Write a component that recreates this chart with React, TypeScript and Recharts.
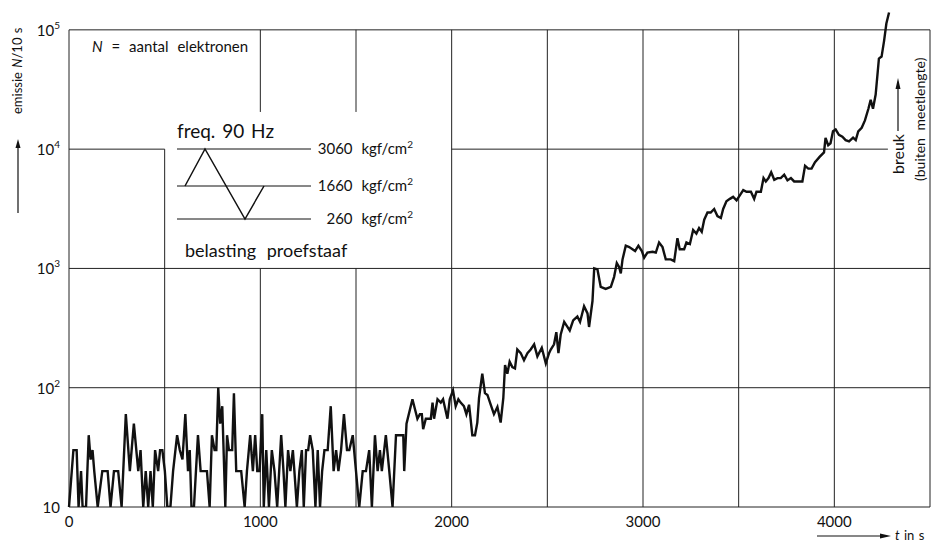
import React from "react";
import { LineChart, Line, XAxis, YAxis, ReferenceLine } from "recharts";

// time in s, emission N per 10 s
const times = [
  0, 23, 40, 50, 63, 71, 89, 103, 113, 123, 132, 150, 174, 202, 217, 235, 257, 275, 297, 318,
  339, 362, 374, 388, 401, 414, 426, 438, 450, 466, 476, 488, 501, 514, 530, 544, 565, 579, 593, 608,
  622, 631, 640, 653, 674, 688, 700, 721, 735, 747, 761, 770, 780, 790, 801, 817, 826, 836, 853, 862,
  874, 900, 918, 930, 947, 961, 973, 984, 996, 1010, 1018, 1031, 1045, 1060, 1074, 1088, 1109, 1121, 1131, 1145,
  1157, 1170, 1178, 1191, 1204, 1217, 1227, 1239, 1250, 1260, 1274, 1288, 1300, 1312, 1323, 1335, 1352, 1368, 1383, 1396,
  1408, 1422, 1437, 1453, 1465, 1483, 1500, 1517, 1535, 1552, 1569, 1583, 1599, 1613, 1625, 1635, 1656, 1674, 1691, 1709,
  1726, 1747, 1752, 1764, 1795, 1821, 1834, 1844, 1851, 1865, 1891, 1900, 1908, 1926, 1943, 1955, 1978, 1990, 2007, 2021,
  2035, 2047, 2064, 2077, 2091, 2108, 2122, 2134, 2143, 2160, 2174, 2187, 2204, 2221, 2239, 2256, 2270, 2279, 2291, 2303,
  2317, 2331, 2343, 2361, 2378, 2396, 2413, 2431, 2448, 2471, 2492, 2509, 2518, 2535, 2547, 2558, 2570, 2588, 2605, 2617,
  2635, 2657, 2671, 2692, 2710, 2718, 2736, 2745, 2762, 2779, 2805, 2832, 2849, 2863, 2875, 2884, 2893, 2910, 2928, 2945,
  2959, 2976, 2994, 3006, 3023, 3050, 3067, 3084, 3102, 3119, 3145, 3163, 3180, 3192, 3215, 3227, 3245, 3262, 3279, 3293,
  3307, 3320, 3337, 3354, 3372, 3389, 3407, 3419, 3436, 3454, 3471, 3489, 3506, 3524, 3541, 3564, 3581, 3593, 3616, 3630,
  3642, 3656, 3670, 3686, 3703, 3720, 3738, 3755, 3773, 3790, 3816, 3833, 3847, 3864, 3881, 3899, 3923, 3946, 3954, 3968,
  3980, 3993, 4007, 4024, 4042, 4059, 4077, 4098, 4112, 4125, 4143, 4160, 4178, 4190, 4202, 4216, 4233, 4247, 4260, 4272,
  4286,
];

const counts = [
  10, 30, 30, 10, 20, 10, 10, 40, 25, 30, 20, 10, 20, 20, 10, 20, 20, 10, 60, 20,
  50, 20, 30, 10, 20, 10, 20, 10, 30, 20, 30, 30, 20, 10, 10, 20, 40, 30, 25, 60,
  20, 30, 10, 10, 40, 20, 20, 20, 10, 40, 30, 30, 100, 50, 70, 10, 40, 30, 30, 90,
  20, 20, 10, 20, 40, 20, 40, 20, 20, 60, 10, 30, 10, 30, 20, 10, 40, 20, 10, 30,
  20, 30, 20, 10, 20, 30, 10, 30, 30, 40, 30, 10, 30, 10, 20, 30, 30, 70, 20, 30,
  20, 30, 60, 30, 30, 40, 20, 10, 20, 20, 30, 10, 40, 20, 30, 20, 40, 20, 10, 40,
  40, 40, 20, 50, 80, 55, 60, 60, 45, 55, 55, 75, 55, 80, 75, 80, 55, 80, 95, 70,
  80, 75, 70, 60, 72, 40, 40, 51, 82, 131, 90, 87, 72, 60, 69, 51, 82, 155, 131, 165,
  149, 145, 209, 195, 170, 195, 209, 231, 183, 216, 160, 195, 209, 231, 292, 195, 280, 356, 323, 302,
  367, 395, 356, 482, 420, 323, 533, 1000, 980, 700, 674, 700, 850, 1110, 1030, 910, 1190, 1550, 1510, 1450,
  1400, 1550, 1400, 1230, 1360, 1380, 1360, 1650, 1510, 1190, 1190, 1150, 1790, 1450, 1450, 1650, 1600, 2100, 1960, 2180,
  2030, 2560, 2940, 2940, 3150, 2750, 2650, 3150, 3660, 3830, 3980, 3720, 4100, 4530, 4390, 4390, 3830, 4390, 4390, 5720,
  5360, 5720, 6400, 5540, 5720, 5720, 6100, 5470, 5720, 5360, 5360, 5360, 7240, 6860, 6860, 7760, 8610, 9400, 12400, 10800,
  11200, 14100, 14600, 13200, 12700, 11900, 11600, 12500, 11900, 14100, 15100, 17400, 21800, 25900, 21800, 28700, 57400, 59700, 80900, 113000,
  140000,
];

const xTicks = [0, 1000, 2000, 3000, 4000];
const yTicks = [10, 100, 1000, 10000, 100000];

// grid lines in data units, with the gaps the original leaves around its inset
const hGrid = [
  { y: 100000, from: 0, to: 4500 },
  { y: 10000, from: 0, to: 500 },
  { y: 10000, from: 2000, to: 4280 },
  { y: 1000, from: 0, to: 4500 },
  { y: 100, from: 0, to: 4500 },
  { y: 10, from: 0, to: 4500 },
];
const vGrid = [
  { x: 0, from: 10, to: 100000 },
  { x: 500, from: 10, to: 10000 },
  { x: 1000, from: 10, to: 1000 },
  { x: 1000, from: 20500, to: 100000 },
  { x: 1500, from: 10, to: 1000 },
  { x: 1500, from: 20500, to: 100000 },
  { x: 2000, from: 10, to: 100000 },
  { x: 2500, from: 10, to: 100000 },
  { x: 3000, from: 10, to: 100000 },
  { x: 3500, from: 10, to: 100000 },
  { x: 4000, from: 10, to: 100000 },
  { x: 4500, from: 10, to: 100000 },
];

const data = times.map((t, i) => ({ t, n: counts[i] }));

const FONT = "Lato, 'Open Sans', sans-serif";
const INK = "#111";

function YTick({ x, y, payload }: any) {
  const exp = Math.round(Math.log10(payload.value));
  return (
    <text x={x - 1} y={y + 6} textAnchor="end" fontSize={15} fill={INK} fontFamily={FONT}>
      10
      {exp > 1 && (
        <tspan dy={-7} fontSize={10}>
          {exp}
        </tspan>
      )}
    </text>
  );
}

function XTick({ x, y, payload }: any) {
  return (
    <text x={x} y={y + 12} textAnchor="middle" fontSize={15} fill={INK} fontFamily={FONT}>
      {payload.value}
    </text>
  );
}

function Overlay() {
  const t = { fontFamily: FONT, fill: INK };
  return (
    <svg
      width={933}
      height={545}
      style={{ position: "absolute", left: 0, top: 0, pointerEvents: "none" }}
    >
      {/* y axis title */}
      <g transform="translate(22,0)">
        <text transform="translate(0,114) rotate(-90)" fontSize={13} wordSpacing={1} {...t}>
          emissie <tspan fontStyle="italic">N</tspan>/10 s
        </text>
        <line x1={-4} y1={213} x2={-4} y2={146} stroke={INK} strokeWidth={1.2} />
        <polygon points="-4,139 -6.5,148 -1.5,148" fill={INK} />
      </g>

      {/* x axis title */}
      <line x1={817} y1={536} x2={882} y2={536} stroke={INK} strokeWidth={1.2} />
      <polygon points="891,536 880,533.5 880,538.5" fill={INK} />
      <text x={895} y={540} fontSize={13} wordSpacing={1} {...t}>
        <tspan fontStyle="italic">t</tspan> in s
      </text>

      {/* break annotation */}
      <text transform="translate(904,174) rotate(-90)" fontSize={16} {...t}>
        breuk
      </text>
      <line x1={898} y1={131} x2={898} y2={86} stroke={INK} strokeWidth={1.2} />
      <polygon points="898,78 895.5,89 900.5,89" fill={INK} />
      <text transform="translate(925,181) rotate(-90)" fontSize={14} wordSpacing={4} {...t}>
        (buiten meetlengte)
      </text>

      {/* legend note */}
      <text x={92} y={52} fontSize={15} wordSpacing={5} {...t}>
        <tspan fontStyle="italic">N</tspan> = aantal elektronen
      </text>

      {/* load schematic */}
      <text x={177} y={138} fontSize={19} wordSpacing={2} {...t}>
        freq. 90 Hz
      </text>
      <line x1={177} y1={149} x2={311} y2={149} stroke={INK} strokeWidth={1} />
      <line x1={177} y1={186} x2={311} y2={186} stroke={INK} strokeWidth={1} />
      <line x1={177} y1={219} x2={311} y2={219} stroke={INK} strokeWidth={1} />
      <polyline
        points="185,186 205,149 245,219 264,186"
        fill="none"
        stroke={INK}
        strokeWidth={1.5}
      />
      <text x={413} y={154} textAnchor="end" fontSize={15} wordSpacing={5} {...t}>
        3060 kgf/cm<tspan dy={-6} fontSize={10}>2</tspan>
      </text>
      <text x={413} y={191} textAnchor="end" fontSize={15} wordSpacing={5} {...t}>
        1660 kgf/cm<tspan dy={-6} fontSize={10}>2</tspan>
      </text>
      <text x={413} y={224} textAnchor="end" fontSize={15} wordSpacing={5} {...t}>
        260 kgf/cm<tspan dy={-6} fontSize={10}>2</tspan>
      </text>
      <text x={185} y={257} fontSize={18} wordSpacing={6} {...t}>
        belasting proefstaaf
      </text>
    </svg>
  );
}

export default function App() {
  return (
    <div
      style={{
        position: "absolute",
        left: 0,
        top: 0,
        width: 933,
        height: 545,
        background: "#fff",
        fontFamily: FONT,
      }}
    >
      <LineChart
        width={933}
        height={545}
        data={data}
        margin={{ top: 6, right: 3, bottom: 8, left: 0 }}
      >
        <XAxis
          dataKey="t"
          type="number"
          domain={[0, 4500]}
          ticks={xTicks}
          axisLine={false}
          tickLine={false}
          height={30}
          tick={<XTick />}
        />
        <YAxis
          type="number"
          scale="log"
          domain={[10, 158489]}
          ticks={yTicks}
          allowDataOverflow
          axisLine={false}
          tickLine={false}
          width={69}
          tick={<YTick />}
        />
        {hGrid.map((g, i) => (
          <ReferenceLine
            key={`h${i}`}
            segment={[
              { x: g.from, y: g.y },
              { x: g.to, y: g.y },
            ]}
            stroke="#222"
            strokeWidth={1}
            ifOverflow="visible"
          />
        ))}
        {vGrid.map((g, i) => (
          <ReferenceLine
            key={`v${i}`}
            segment={[
              { x: g.x, y: g.from },
              { x: g.x, y: g.to },
            ]}
            stroke="#222"
            strokeWidth={1}
            ifOverflow="visible"
          />
        ))}
        <Line
          dataKey="n"
          type="linear"
          stroke={INK}
          strokeWidth={2.4}
          dot={false}
          isAnimationActive={false}
        />
      </LineChart>
      <Overlay />
    </div>
  );
}
